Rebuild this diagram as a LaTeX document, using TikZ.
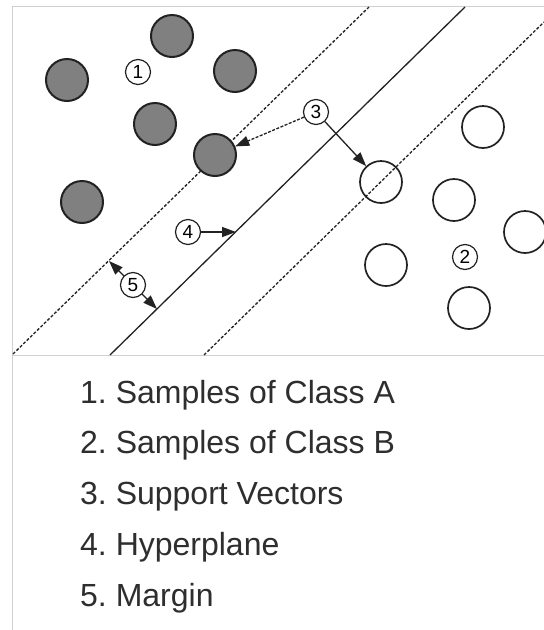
\documentclass[tikz,border=0pt]{standalone}
\usepackage{fontspec}
\setmainfont{Liberation Sans}
\usetikzlibrary{arrows.meta}
\definecolor{frame}{HTML}{D0D0D0}
\definecolor{ink}{HTML}{222222}
\definecolor{fillA}{HTML}{808080}
\definecolor{txt}{HTML}{2E2E2E}
\tikzset{
  classA/.style={circle,draw=ink,fill=fillA,line width=2pt,minimum size=42pt,inner sep=0pt},
  classB/.style={circle,draw=ink,fill=none,line width=1.7pt,minimum size=42pt,inner sep=0pt},
  tag/.style={circle,draw=ink,fill=white,line width=1.2pt,minimum size=25pt,inner sep=0pt,font=\fontsize{19}{19}\selectfont},
  margin/.style={draw=ink,line width=1.3pt,dash pattern=on 3pt off 1.8pt},
  hyper/.style={draw=ink,line width=1.3pt},
  tip/.tip={Triangle[length=14pt,width=10pt]},
  pointer/.style={draw=ink,line width=1.3pt,-tip},
  legend/.style={anchor=base west,inner sep=0pt,text=txt,font=\fontsize{32}{32}\selectfont}
}
\begin{document}
\begin{tikzpicture}[x=1pt,y=-1pt]
\useasboundingbox (0,0) rectangle (544,630);
\fill[white] (0,0) rectangle (544,630);
% frame
\draw[frame,line width=1.5pt] (12.5,630) -- (12.5,6.5) -- (544,6.5);
\draw[frame,line width=1.5pt] (12.5,355.5) -- (544,355.5);
% margin lines and hyperplane
\coordinate (m1a) at (13,354);
\coordinate (m1b) at (369,7);
\coordinate (ha) at (110,355);
\coordinate (hb) at (465,7);
\coordinate (m2a) at (204,355);
\coordinate (m2b) at (544,22);
\draw[margin] (m1a) -- (m1b);
\draw[hyper] (ha) -- (hb);
\draw[margin] (m2a) -- (m2b);
% class A
\node[classA] (a1) at (172,36) {};
\node[classA] (a2) at (67,80) {};
\node[classA] (a3) at (235,71) {};
\node[classA] (a4) at (155,124) {};
\node[classA] (a5) at (215,155) {};
\node[classA] (a6) at (82,202) {};
% class B
\node[classB] (b1) at (483,127) {};
\node[classB] (b2) at (381,182) {};
\node[classB] (b3) at (454,200) {};
\node[classB] (b4) at (525,232) {};
\node[classB] (b5) at (386,265) {};
\node[classB] (b6) at (469,308) {};
% tags
\node[tag] (t1) at (138,72) {1};
\node[tag] (t2) at (465,257) {2};
\node[tag] (t3) at (316,112) {3};
\node[tag] (t4) at (188,232) {4};
% pointers
\draw[pointer,dash pattern=on 3pt off 1.5pt] (t3) -- (a5);
\draw[pointer] (t3) -- (b2);
\coordinate (hp) at (236,232);
\draw[pointer] (t4) -- (hp);
\coordinate (g1) at (109,261);
\coordinate (g2) at (157,309);
\draw[pointer,tip-tip] (g1) -- (g2);
\node[tag] (t5) at (133,285) {5};
% legend
\node[legend] (l1) at (80,403) {1.\ Samples of Class A};
\node[legend] (l2) at (80,453.5) {2.\ Samples of Class B};
\node[legend] (l3) at (80,504.5) {3.\ Support Vectors};
\node[legend] (l4) at (80,555) {4.\ Hyperplane};
\node[legend] (l5) at (80,606) {5.\ Margin};
\end{tikzpicture}
\end{document}
